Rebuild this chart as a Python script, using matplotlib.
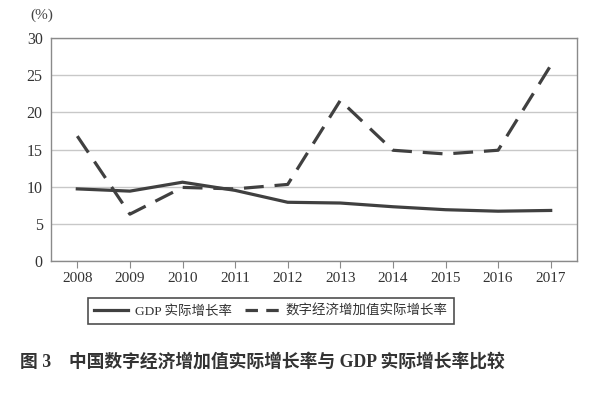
"""
Digital economy value-added growth vs GDP growth in China, 2008-2017
"""

import matplotlib
matplotlib.use("Agg")
import matplotlib.pyplot as plt
import numpy as np

YEARS = ["2008", "2009", "2010", "2011", "2012", "2013", "2014", "2015", "2016", "2017"]
GDP_GROWTH = [9.7, 9.4, 10.6, 9.5, 7.9, 7.8, 7.3, 6.9, 6.7, 6.8]
DIGITAL_GROWTH = [16.8, 6.3, 9.9, 9.7, 10.3, 21.6, 14.9, 14.4, 14.9, 26.3]

SERIES_LABELS = ["GDP 实际增长率", "数字经济增加值实际增长率"]
CAPTION = "图 3\u2003中国数字经济增加值实际增长率与 GDP 实际增长率比较"

FONTS = ["Liberation Serif", "Noto Sans CJK SC", "DejaVu Sans"]
plt.rcParams["font.family"] = FONTS

LINE_COLOR = "#404040"
GRID_COLOR = "#c8c8c8"
SPINE_COLOR = "#8a8a8a"


def plot_chart():
    fig = plt.figure(figsize=(6.15, 3.95), dpi=100)
    fig.patch.set_facecolor("white")
    ax = fig.add_axes([51 / 615, 1 - 261 / 395, (577 - 51) / 615, (261 - 38) / 395])

    x = np.arange(len(YEARS))
    ax.plot(x, GDP_GROWTH, color=LINE_COLOR, linewidth=2.3,
            solid_joinstyle="miter", label=SERIES_LABELS[0], zorder=3)
    ax.plot(x, DIGITAL_GROWTH, color=LINE_COLOR, linewidth=2.3,
            dashes=(6.2, 3.4), dash_capstyle="butt", label=SERIES_LABELS[1], zorder=3)

    ax.set_xlim(-0.5, len(YEARS) - 0.5)
    ax.set_ylim(0, 30)
    ax.set_xticks(x)
    ax.set_xticklabels(YEARS)
    ax.set_yticks(range(0, 31, 5))

    ax.yaxis.grid(True, color=GRID_COLOR, linewidth=1.0)
    ax.set_axisbelow(True)
    for side in ["top", "right", "left", "bottom"]:
        ax.spines[side].set_color(SPINE_COLOR)
        ax.spines[side].set_linewidth(1.0)

    ax.tick_params(axis="x", direction="out", length=5, color=SPINE_COLOR,
                   labelsize=11, labelcolor="#333333", pad=3)
    ax.tick_params(axis="y", length=0, labelsize=11.5, labelcolor="#333333", pad=6)

    fig.text(42 / 615, 1 - 15 / 395, "(%)", fontsize=11, color="#444444",
             ha="center", va="center")

    leg = fig.legend(loc="center", bbox_to_anchor=(271 / 615, 1 - 311 / 395),
                     ncol=2, frameon=True, fancybox=False, fontsize=9.7,
                     handlelength=2.5, handletextpad=0.5, columnspacing=1.0,
                     borderpad=0.5, borderaxespad=0)
    leg.get_frame().set_edgecolor("#222222")
    leg.get_frame().set_linewidth(1.2)
    for t in leg.get_texts():
        t.set_color("#333333")
    # two equal dashes in the legend key, like the original
    leg.get_lines()[1].set_dashes((3.9, 2.6))

    fig.text(262 / 615, 1 - 362 / 395, CAPTION, fontsize=12.8, fontweight="bold",
             color="#333333", ha="center", va="center")

    fig.savefig("out.png", dpi=100, facecolor=fig.get_facecolor())
    plt.close(fig)


if __name__ == "__main__":
    plot_chart()
